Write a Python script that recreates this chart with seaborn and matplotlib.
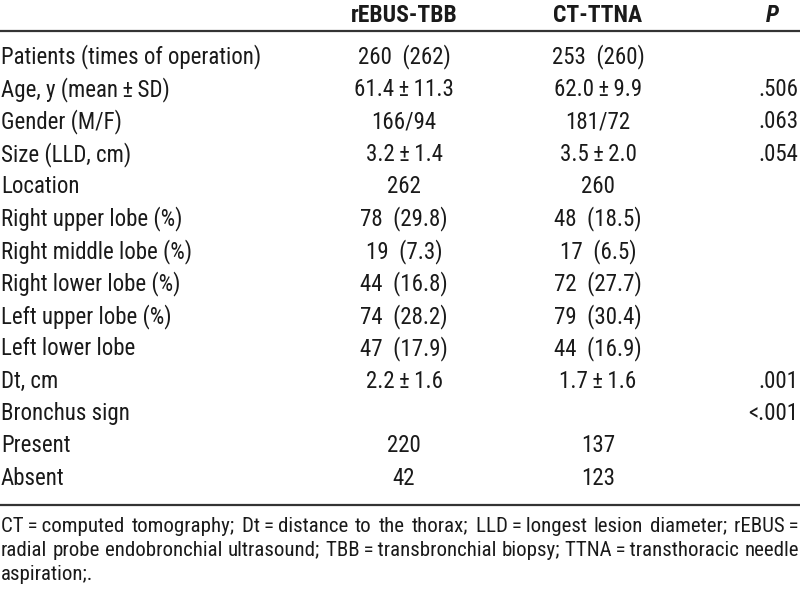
import matplotlib
matplotlib.use("Agg")
import matplotlib.pyplot as plt
import seaborn as sns

sns.set_theme(style="white")
plt.rcParams['font.family'] = ['Liberation Sans Narrow', 'Roboto Condensed', 'Liberation Sans', 'DejaVu Sans']

# Table content
headers = ["rEBUS-TBB", "CT-TTNA", "P"]
row_labels = ["Patients (times of operation)", "Age, y (mean\u2009\u00b1\u2009SD)", "Gender (M/F)",
              "Size (LLD, cm)", "Location", "Right upper lobe (%)", "Right middle lobe (%)",
              "Right lower lobe (%)", "Left upper lobe (%)", "Left lower lobe", "Dt, cm",
              "Bronchus sign", "Present", "Absent"]
rebus_vals = ["260  (262)", "61.4\u2009\u00b1\u200911.3", "166/94", "3.2\u2009\u00b1\u20091.4", "262",
              "78  (29.8)", "19  (7.3)", "44  (16.8)", "74  (28.2)", "47  (17.9)",
              "2.2\u2009\u00b1\u20091.6", "", "220", "42"]
ct_vals = ["253  (260)", "62.0\u2009\u00b1\u20099.9", "181/72", "3.5\u2009\u00b1\u20092.0", "260",
           "48  (18.5)", "17  (6.5)", "72  (27.7)", "79  (30.4)", "44  (16.9)",
           "1.7\u2009\u00b1\u20091.6", "", "137", "123"]
p_vals = ["", ".506", ".063", ".054", "", "", "", "", "", "", ".001", "<.001", "", ""]
footnote = ["CT\u2009=\u2009computed tomography; Dt\u2009=\u2009distance to the thorax; "
            "LLD\u2009=\u2009longest lesion diameter; rEBUS\u2009=",
            "radial probe endobronchial ultrasound; TBB\u2009=\u2009transbronchial biopsy; "
            "TTNA\u2009=\u2009transthoracic needle",
            "aspiration;."]

W, H = 800, 602
fig = plt.figure(figsize=(W / 100, H / 100), dpi=100)
ax = fig.add_axes([0, 0, 1, 1])
ax.set_xlim(0, W)
ax.set_ylim(H, 0)
ax.axis('off')

txt = '#1a1a1a'
fs = 16.5
col_x = [404, 598]
p_right = 798

# header
hfs = 17
ax.text(col_x[0], 15, headers[0], ha='center', va='center', fontsize=hfs, fontweight='bold', color=txt)
ax.text(col_x[1], 15, headers[1], ha='center', va='center', fontsize=hfs, fontweight='bold', color=txt)
ax.text(772, 15, headers[2], ha='center', va='center', fontsize=hfs, fontweight='bold',
        fontstyle='italic', color=txt)
ax.plot([0, W], [31, 31], color='#333333', lw=1.6, solid_capstyle='butt')

y0, dy = 57, 32.4
for i, lab in enumerate(row_labels):
    y = y0 + i * dy
    ax.text(1, y, lab, ha='left', va='center', fontsize=fs, color=txt)
    ax.text(col_x[0], y, rebus_vals[i], ha='center', va='center', fontsize=fs, color=txt)
    ax.text(col_x[1], y, ct_vals[i], ha='center', va='center', fontsize=fs, color=txt)
    ax.text(p_right, y, p_vals[i], ha='right', va='center', fontsize=fs, color=txt)

ax.plot([0, W], [505, 505], color='#333333', lw=1.6, solid_capstyle='butt')

# footnote, justified like the journal layout
fig.canvas.draw()
renderer = fig.canvas.get_renderer()
ffs = 15
for k, line in enumerate(footnote):
    y = 526 + k * 24
    if k == len(footnote) - 1:
        ax.text(1, y, line, ha='left', va='center', fontsize=ffs, color=txt)
        continue
    words = line.split(' ')
    objs = [ax.text(0, y, w, ha='left', va='center', fontsize=ffs, color=txt) for w in words]
    widths = [o.get_window_extent(renderer).width for o in objs]
    gap = (W - 2 - sum(widths)) / (len(words) - 1)
    x = 1
    for o, w in zip(objs, widths):
        o.set_x(x)
        x += w + gap

fig.savefig("out.png", dpi=100)
